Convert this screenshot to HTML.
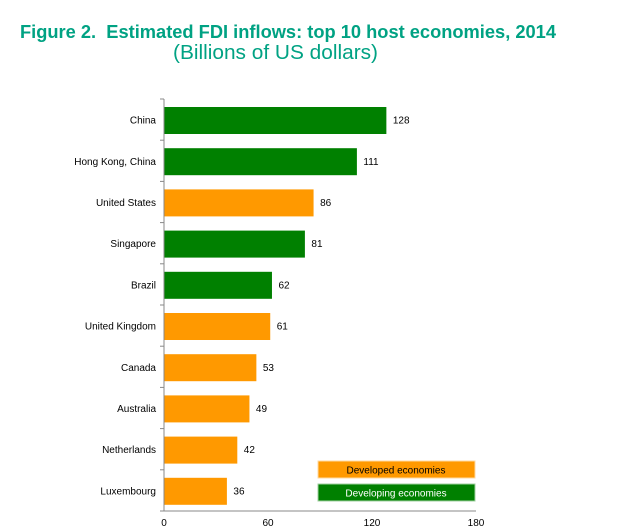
<!DOCTYPE html>
<html><head><meta charset="utf-8"><style>
body{margin:0;background:#fff;width:626px;height:526px;overflow:hidden;font-family:"Liberation Sans",Arial,sans-serif}
</style></head><body>
<svg width="626" height="526" viewBox="0 0 626 526" id="chart">
<text x="288" y="38" text-anchor="middle" font-size="18.5" font-weight="bold" fill="#00a283" textLength="536" lengthAdjust="spacingAndGlyphs">Figure 2.&#160; Estimated FDI inflows: top 10 host economies, 2014</text>
<text x="275.5" y="59" text-anchor="middle" font-size="20" fill="#00a283" textLength="205" lengthAdjust="spacingAndGlyphs">(Billions of US dollars)</text>
<g id="plot"></g>
<rect x="318" y="461" width="157" height="17" fill="#ff9900" stroke="#ffd9a0"/>
<text x="396" y="473.5" text-anchor="middle" font-size="10" fill="#000">Developed economies</text>
<rect x="318" y="484" width="157" height="17" fill="#008000" stroke="#a0d0a0"/>
<text x="396" y="496.5" text-anchor="middle" font-size="10" fill="#fff">Developing  economies</text>
</svg>
<script>
const categories=["China","Hong Kong, China","United States","Singapore","Brazil","United Kingdom","Canada","Australia","Netherlands","Luxembourg"];
const values=[128,111,86,81,62,61,53,49,42,36];
const groups=["developing","developing","developed","developing","developing","developed","developed","developed","developed","developed"];
const ticks=[0,60,120,180];
const x0=164,x1=476,yTop=99,yBot=511,xmax=180;
const band=(yBot-yTop)/categories.length;
const xs=v=>x0+(x1-x0)*v/xmax;
const ns="http://www.w3.org/2000/svg";
const g=document.getElementById('plot');
function mk(t,a){const e=document.createElementNS(ns,t);for(const k in a)e.setAttribute(k,a[k]);g.appendChild(e);return e;}
categories.forEach((c,i)=>{
  const yb=yTop+i*band;
  const r=mk('rect',{x:x0+0.5,y:yb+8,width:xs(values[i])-x0,height:27,fill:groups[i]==="developed"?"#ff9900":"#008000"});
  
  
  const l=mk('text',{x:x0-8,y:yb+band/2+4,'text-anchor':'end','font-size':'10',fill:'#000'});l.textContent=c;
  
  
  const v=mk('text',{x:xs(values[i])+7,y:yb+band/2+4,'font-size':'10',fill:'#000'});v.textContent=values[i];
  
  
  const t=mk('line',{x1:x0-4,x2:x0,y1:yb,y2:yb,stroke:'#888'});
  
  
});
const ya=mk('line',{x1:x0,x2:x0,y1:yTop,y2:yBot,stroke:'#888'});


const xa=mk('line',{x1:x0-4,x2:x1,y1:yBot,y2:yBot,stroke:'#888'});


ticks.forEach(t=>{
  const tl=mk('text',{x:xs(t),y:yBot+15,'text-anchor':'middle','font-size':'10',fill:'#000'});tl.textContent=t;
  
  
});
</script>
</body></html>
